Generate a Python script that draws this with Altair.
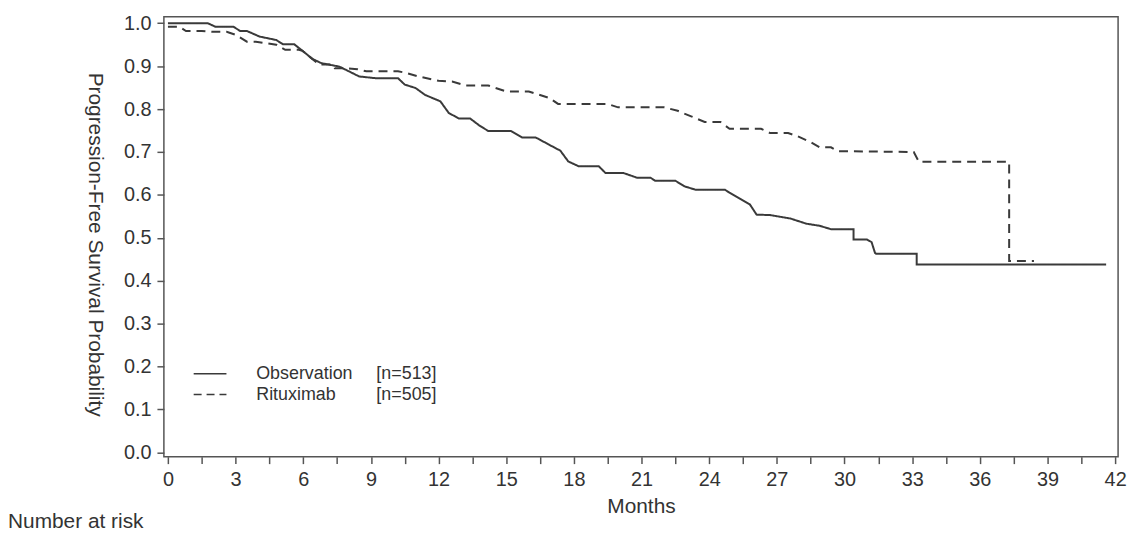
import altair as alt
import pandas as pd

# ---- data ----
groups = ["Observation", "Rituximab"]
n_labels = ["[n=513]", "[n=505]"]

obs_month = [0, 1.77, 2.1, 2.9, 3.2, 3.5, 4.06, 4.8, 5.1, 5.6, 5.96, 6.4, 6.8, 7.6, 8.48,
             9.2, 10.2, 10.5, 10.98, 11.4, 12.08, 12.45, 12.9, 13.4, 13.8, 14.2, 15.2, 15.7,
             16.3, 16.9, 17.4, 17.75, 18.2, 19.1, 19.4, 20.2, 20.8, 21.4, 21.6, 22.5, 22.9,
             23.4, 24.7, 24.9, 25.4, 25.8, 26.1, 26.7, 27.6, 28.3, 28.9, 29.4, 30.4, 30.4,
             31.0, 31.2, 31.35, 31.4, 33.2, 33.2, 41.6]
obs_surv = [1.0, 1.0, 0.992, 0.992, 0.982, 0.982, 0.969, 0.961, 0.951, 0.951, 0.936, 0.917,
            0.907, 0.899, 0.876, 0.872, 0.872, 0.857, 0.849, 0.833, 0.818, 0.791, 0.778, 0.778,
            0.762, 0.749, 0.749, 0.734, 0.734, 0.717, 0.703, 0.678, 0.667, 0.667, 0.651, 0.651,
            0.640, 0.640, 0.633, 0.633, 0.620, 0.612, 0.612, 0.605, 0.590, 0.578, 0.554, 0.553,
            0.545, 0.533, 0.528, 0.520, 0.520, 0.496, 0.496, 0.490, 0.465, 0.463, 0.463, 0.438,
            0.438]

rit_month = [0, 0.5, 0.8, 1.5, 2.0, 2.6, 3.0, 3.5, 3.9, 4.8, 5.2, 5.8, 5.96, 6.4, 6.7, 7.3,
             7.4, 7.9, 8.4, 8.8, 10.2, 10.5, 11.1, 12.0, 12.6, 13.2, 14.2, 15.0, 16.0, 16.9,
             17.3, 19.5, 19.96, 22.0, 22.6, 23.2, 23.8, 24.5, 24.9, 26.3, 26.7, 27.5, 27.9,
             28.5, 28.9, 29.4, 29.7, 33.07, 33.3, 37.3, 37.3, 38.4]
rit_surv = [0.992, 0.992, 0.982, 0.982, 0.980, 0.980, 0.973, 0.957, 0.957, 0.950, 0.938, 0.938,
            0.936, 0.917, 0.904, 0.904, 0.895, 0.895, 0.893, 0.888, 0.888, 0.885, 0.876, 0.866,
            0.864, 0.855, 0.855, 0.841, 0.841, 0.826, 0.812, 0.812, 0.804, 0.804, 0.796, 0.783,
            0.770, 0.770, 0.754, 0.754, 0.744, 0.744, 0.737, 0.723, 0.711, 0.711, 0.702, 0.700,
            0.677, 0.677, 0.446, 0.446]

x_ticks = [i * 1.5 for i in range(29)]
y_ticks = [i / 10 for i in range(11)]

rows = []
for g, ts, ss in ((groups[0], obs_month, obs_surv), (groups[1], rit_month, rit_surv)):
    for i, (t, s) in enumerate(zip(ts, ss)):
        rows.append({"group": g, "order": i, "month": t, "surv": s})
df = pd.DataFrame(rows)

FONT = "Liberation Sans"
INK = "#333333"
FRAME = "#555555"
DASH = [9, 6]

x_enc = alt.X(
    "month:Q",
    scale=alt.Scale(domain=[-0.18, 42.13], nice=False, zero=False),
    axis=alt.Axis(
        title="Months", values=x_ticks,
        labelExpr="datum.value % 3 == 0 ? datum.label : ''",
        labelOverlap=False, grid=False, domain=False,
        tickSize=7, tickWidth=1.5, tickColor=FRAME,
        labelPadding=6, labelFont=FONT, labelFontSize=20, labelColor=INK,
        titleFont=FONT, titleFontSize=21, titleFontWeight="normal", titleColor=INK,
        titleBaseline="top", titleY=39,
    ),
)
y_enc = alt.Y(
    "surv:Q",
    scale=alt.Scale(domain=[-0.010, 1.015], nice=False, zero=False),
    axis=alt.Axis(
        title="Progression-Free Survival Probability", values=y_ticks, format=".1f",
        labelOverlap=False, grid=False, domain=False,
        tickSize=7, tickWidth=1.5, tickColor=FRAME,
        labelPadding=6, labelFont=FONT, labelFontSize=20, labelColor=INK,
        titleFont=FONT, titleFontSize=21, titleFontWeight="normal", titleColor=INK,
        titleAngle=90, titleAlign="center", titleBaseline="middle",
        titleX=-70, titleY=229,
    ),
)

curves = alt.Chart(df).mark_line(strokeWidth=2, color="#3a3a3a").encode(
    x=x_enc,
    y=y_enc,
    order="order:Q",
    detail="group:N",
    strokeDash=alt.StrokeDash("group:N", scale=alt.Scale(domain=groups, range=[[1, 0], DASH]),
                              legend=None),
)

layers = [curves]

# hand-drawn legend
for i, (g, n) in enumerate(zip(groups, n_labels)):
    yrow = 359.5 + 21 * i
    one = pd.DataFrame({"name": [g], "n": [n]})
    rule_kw = {"strokeDash": [8, 5]} if i == 1 else {}
    layers.append(
        alt.Chart(one).mark_rule(color="#3a3a3a", strokeWidth=1.5, **rule_kw).encode(
            x=alt.value(30), x2=alt.value(63), y=alt.value(yrow)
        )
    )
    layers.append(
        alt.Chart(one).mark_text(font=FONT, fontSize=18, color=INK, align="left",
                                 baseline="middle").encode(
            x=alt.value(93), y=alt.value(yrow), text="name:N"
        )
    )
    layers.append(
        alt.Chart(one).mark_text(font=FONT, fontSize=18, color=INK, align="left",
                                 baseline="middle").encode(
            x=alt.value(214), y=alt.value(yrow), text="n:N"
        )
    )

risk = alt.Chart(pd.DataFrame({"label": ["Number at risk"]})).mark_text(
    font=FONT, fontSize=21, color=INK, align="left", baseline="alphabetic"
).encode(x=alt.value(-157), y=alt.value(515), text="label:N")
layers.append(risk)

chart = alt.layer(*layers).properties(
    width=961, height=443,
    autosize=alt.AutoSizeParams(type="none"),
    padding={"left": 157, "top": 7, "right": 12, "bottom": 75},
).configure_view(stroke=FRAME, strokeWidth=1.5)

chart.save("out.html", embed_options={"renderer": "svg", "actions": False})
